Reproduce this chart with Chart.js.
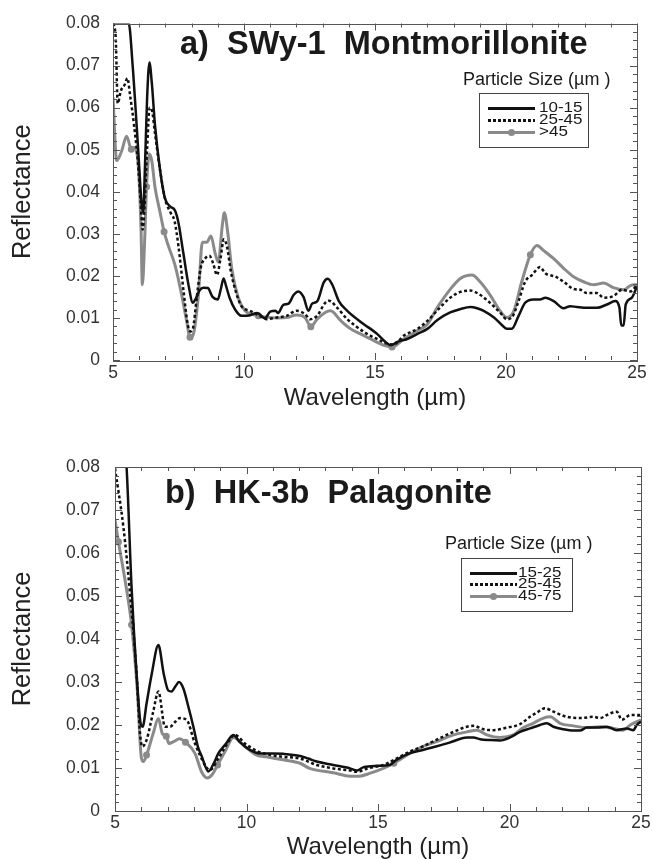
<!DOCTYPE html>
<html>
<head>
<meta charset="utf-8">
<script src="https://cdn.jsdelivr.net/npm/chart.js@4.4.1/dist/chart.umd.min.js"></script>
<style>
  html, body { margin: 0; padding: 0; background: #fff; }
  #page { position: relative; width: 653px; height: 859px; font-family: "Liberation Sans", Arial, sans-serif; color: #1a1a1a; }
  .panel { position: absolute; left: 0; width: 653px; }
  #panelA { top: 0; height: 430px; }
  #panelB { top: 430px; height: 429px; }
  canvas { display: block; }
  .title { position: absolute; font-weight: bold; font-size: 32.5px; line-height: 32px; white-space: pre; }
  .sizeHead { position: absolute; font-size: 18px; line-height: 18px; white-space: pre; }
  .legendBox { position: absolute; border: 1px solid #444; box-sizing: border-box; }
  .legendRow { position: absolute; font-size: 17px; line-height: 12px; height: 12px; white-space: pre; transform: scaleY(0.82); }
  .sample { position: absolute; height: 3px; }
  .dot { position: absolute; width: 7px; height: 7px; border-radius: 50%; }
</style>
</head>
<body>
<div id="page">
  <div class="panel" id="panelA"><canvas id="chartA" width="653" height="430"></canvas></div>
  <div class="panel" id="panelB"><canvas id="chartB" width="653" height="429"></canvas></div>
</div>
<script>
// Axis ticks shared by both panels
const xTicks = [5, 10, 15, 20, 25];
const yTicks = [0, 0.01, 0.02, 0.03, 0.04, 0.05, 0.06, 0.07, 0.08];
const yTickLabels = ['0', '0.01', '0.02', '0.03', '0.04', '0.05', '0.06', '0.07', '0.08'];

// a) SWy-1 Montmorillonite
const sizesA = ['10-15', '25-45', '>45'];
const waveA1 = [5.0, 5.3, 5.6, 5.75, 5.9, 6.0, 6.08, 6.15, 6.22, 6.3, 6.39, 6.48, 6.6, 6.8, 6.98, 7.18, 7.37, 7.5, 7.68, 7.88, 8.05, 8.15, 8.3, 8.45, 8.62, 8.8, 9.0, 9.12, 9.22, 9.32, 9.45, 9.66, 9.9, 10.2, 10.5, 10.8, 11.0, 11.2, 11.3, 11.5, 11.7, 11.9, 12.07, 12.27, 12.46, 12.6, 12.8, 13.04, 13.2, 13.37, 13.62, 13.94, 14.32, 14.64, 14.83, 15.08, 15.4, 15.6, 15.85, 16.23, 16.62, 17.0, 17.38, 17.87, 18.26, 18.64, 18.9, 19.15, 19.54, 19.86, 20.03, 20.22, 20.48, 20.73, 21.05, 21.3, 21.5, 21.82, 22.2, 22.45, 22.71, 23.09, 23.47, 23.85, 24.17, 24.33, 24.4, 24.49, 24.57, 24.8, 25.0];
const reflA1 = [0.080, 0.080, 0.080, 0.070, 0.056, 0.046, 0.038, 0.035, 0.046, 0.062, 0.0707, 0.066, 0.056, 0.045, 0.0385, 0.0365, 0.0355, 0.0326, 0.0256, 0.0179, 0.0136, 0.0145, 0.0165, 0.0172, 0.0171, 0.015, 0.0144, 0.017, 0.0194, 0.0175, 0.0148, 0.012, 0.0105, 0.0106, 0.0112, 0.0099, 0.0115, 0.0117, 0.0112, 0.0131, 0.0134, 0.0155, 0.0163, 0.015, 0.0117, 0.0134, 0.014, 0.0184, 0.0193, 0.0179, 0.014, 0.0117, 0.0097, 0.0082, 0.0074, 0.0062, 0.0043, 0.0035, 0.0043, 0.005, 0.0062, 0.0074, 0.0095, 0.0113, 0.0121, 0.0126, 0.0123, 0.0117, 0.0101, 0.0082, 0.0074, 0.0074, 0.0105, 0.0136, 0.0144, 0.0144, 0.0148, 0.014, 0.0123, 0.0128, 0.0126, 0.0124, 0.0124, 0.0132, 0.014, 0.0124, 0.0082, 0.0082, 0.0132, 0.0148, 0.0175];
const waveA2 = [5.0, 5.1, 5.18, 5.3, 5.45, 5.55, 5.65, 5.8, 5.95, 6.05, 6.13, 6.2, 6.3, 6.4, 6.5, 6.6, 6.8, 7.0, 7.2, 7.35, 7.5, 7.7, 7.85, 7.95, 8.05, 8.2, 8.35, 8.5, 8.68, 8.82, 8.97, 9.1, 9.23, 9.35, 9.5, 9.7, 9.9, 10.23, 10.6, 10.87, 11.25, 11.63, 12.0, 12.33, 12.52, 12.79, 13.1, 13.24, 13.56, 13.94, 14.32, 14.7, 15.08, 15.46, 15.72, 16.1, 16.62, 17.0, 17.38, 17.87, 18.26, 18.64, 19.01, 19.39, 19.77, 20.03, 20.22, 20.48, 20.73, 20.99, 21.3, 21.5, 21.89, 22.2, 22.58, 22.84, 23.09, 23.47, 23.73, 24.1, 24.43, 24.75, 25.0];
const reflA2 = [0.080, 0.077, 0.061, 0.064, 0.0655, 0.067, 0.063, 0.056, 0.047, 0.038, 0.031, 0.036, 0.05, 0.06, 0.059, 0.054, 0.045, 0.038, 0.035, 0.033, 0.027, 0.016, 0.0085, 0.0068, 0.0075, 0.015, 0.022, 0.024, 0.0248, 0.023, 0.0202, 0.024, 0.0287, 0.027, 0.021, 0.016, 0.0128, 0.0117, 0.0105, 0.0097, 0.0101, 0.0105, 0.0117, 0.0109, 0.0097, 0.0105, 0.0136, 0.0141, 0.0124, 0.0097, 0.0078, 0.0062, 0.005, 0.0039, 0.0037, 0.0058, 0.0074, 0.0093, 0.0118, 0.0148, 0.0162, 0.0165, 0.0155, 0.0136, 0.0113, 0.0097, 0.0101, 0.014, 0.0186, 0.0202, 0.0221, 0.0206, 0.0198, 0.0186, 0.0169, 0.0167, 0.0159, 0.0159, 0.0148, 0.0152, 0.0167, 0.0163, 0.0179];
const waveA3 = [5.0, 5.14, 5.33, 5.52, 5.7, 5.82, 5.97, 6.07, 6.12, 6.2, 6.28, 6.39, 6.48, 6.6, 6.8, 6.95, 7.11, 7.37, 7.62, 7.81, 7.94, 8.07, 8.26, 8.41, 8.58, 8.74, 8.89, 9.02, 9.17, 9.25, 9.38, 9.53, 9.78, 10.04, 10.29, 10.55, 10.74, 11.25, 11.63, 12.0, 12.33, 12.55, 12.79, 13.1, 13.3, 13.7, 14.07, 14.45, 14.83, 15.34, 15.65, 16.1, 16.62, 17.0, 17.38, 17.87, 18.26, 18.7, 19.01, 19.39, 19.77, 20.03, 20.3, 20.6, 20.93, 21.18, 21.44, 21.82, 22.2, 22.58, 22.96, 23.35, 23.73, 24.1, 24.49, 24.75, 25.0];
const reflA3 = [0.0625, 0.0474, 0.0497, 0.0532, 0.0501, 0.0505, 0.0458, 0.031, 0.0179, 0.027, 0.0412, 0.049, 0.0474, 0.0412, 0.035, 0.0305, 0.0272, 0.0225, 0.0155, 0.0093, 0.0054, 0.0062, 0.0155, 0.028, 0.028, 0.0295, 0.0256, 0.0233, 0.0319, 0.035, 0.0303, 0.0218, 0.0148, 0.0117, 0.0109, 0.0105, 0.0103, 0.01, 0.0101, 0.0107, 0.0101, 0.0079, 0.0097, 0.0113, 0.0117, 0.0093, 0.0074, 0.0062, 0.005, 0.0035, 0.0031, 0.005, 0.007, 0.0085, 0.0125, 0.0168, 0.0194, 0.0202, 0.0186, 0.0155, 0.0117, 0.0101, 0.0117, 0.0186, 0.025, 0.0272, 0.026, 0.0241, 0.0218, 0.0198, 0.0186, 0.0179, 0.0183, 0.0172, 0.0167, 0.0177, 0.0179];
const markersA = [5.7, 6.28, 6.95, 7.94, 10.55, 12.55, 15.65, 20.93];

// b) HK-3b Palagonite
const sizesB = ['15-25', '25-45', '45-75'];
const waveB1 = [5.0, 5.2, 5.44, 5.63, 5.82, 5.97, 6.05, 6.2, 6.4, 6.65, 6.85, 7.03, 7.15, 7.3, 7.43, 7.6, 7.8, 7.98, 8.15, 8.3, 8.55, 8.75, 8.93, 9.2, 9.5, 9.75, 10.13, 10.5, 11.0, 11.4, 12.04, 12.35, 12.67, 13.3, 13.94, 14.2, 14.45, 14.95, 15.45, 15.7, 16.2, 16.7, 17.2, 17.72, 18.38, 18.63, 18.88, 19.26, 19.64, 20.02, 20.4, 20.78, 21.16, 21.42, 21.67, 22.05, 22.43, 22.68, 22.94, 23.32, 23.7, 24.08, 24.46, 24.71, 24.84, 25.0];
const reflB1 = [0.112, 0.096, 0.080, 0.052, 0.032, 0.0205, 0.0196, 0.025, 0.032, 0.0386, 0.032, 0.028, 0.0278, 0.029, 0.030, 0.0285, 0.024, 0.0196, 0.015, 0.0127, 0.0092, 0.011, 0.0134, 0.0155, 0.0177, 0.016, 0.0142, 0.0134, 0.0134, 0.0133, 0.0128, 0.0122, 0.0115, 0.0107, 0.0099, 0.0094, 0.0102, 0.0105, 0.0107, 0.0119, 0.0134, 0.0142, 0.015, 0.0159, 0.0171, 0.0171, 0.0167, 0.0165, 0.0164, 0.0171, 0.0184, 0.0192, 0.02, 0.0204, 0.0196, 0.019, 0.0187, 0.0187, 0.0194, 0.0194, 0.0196, 0.0188, 0.0192, 0.0188, 0.02, 0.0208];
const waveB2 = [5.0, 5.32, 5.57, 5.82, 5.95, 6.04, 6.2, 6.45, 6.65, 6.9, 7.09, 7.3, 7.47, 7.72, 8.04, 8.42, 8.6, 8.93, 9.2, 9.56, 9.94, 10.45, 10.96, 11.4, 12.04, 12.67, 13.3, 13.94, 14.2, 14.6, 15.2, 15.7, 16.2, 16.7, 17.2, 17.87, 18.38, 18.63, 19.01, 19.39, 19.9, 20.4, 20.78, 21.04, 21.35, 21.67, 22.18, 22.68, 23.19, 23.45, 23.7, 24.08, 24.27, 24.59, 25.0];
const reflB2 = [0.0797, 0.066, 0.0507, 0.032, 0.0181, 0.015, 0.0165, 0.023, 0.0278, 0.0196, 0.0196, 0.0208, 0.0216, 0.0212, 0.0157, 0.0107, 0.0095, 0.0122, 0.015, 0.0177, 0.0157, 0.0138, 0.013, 0.0126, 0.0122, 0.0107, 0.0099, 0.0094, 0.0091, 0.0099, 0.0107, 0.0122, 0.0138, 0.015, 0.0165, 0.0184, 0.0196, 0.0198, 0.019, 0.0188, 0.0194, 0.0202, 0.0219, 0.0229, 0.0239, 0.0231, 0.0219, 0.0216, 0.0219, 0.0216, 0.0223, 0.0231, 0.0212, 0.0223, 0.0223];
const waveB3 = [5.0, 5.13, 5.4, 5.63, 5.85, 6.0, 6.08, 6.2, 6.45, 6.65, 6.8, 6.95, 7.05, 7.25, 7.45, 7.68, 8.04, 8.3, 8.5, 8.7, 8.9, 9.2, 9.5, 9.94, 10.39, 10.76, 11.4, 12.04, 12.4, 12.67, 13.3, 13.94, 14.3, 14.7, 15.2, 15.6, 16.2, 16.7, 17.2, 17.87, 18.38, 18.76, 19.14, 19.64, 20.15, 20.53, 20.9, 21.29, 21.55, 21.92, 22.43, 22.94, 23.45, 23.95, 24.33, 24.59, 25.0];
const reflB3 = [0.0677, 0.0626, 0.053, 0.0433, 0.028, 0.0125, 0.0115, 0.013, 0.018, 0.0215, 0.018, 0.0174, 0.0157, 0.0162, 0.0168, 0.016, 0.0134, 0.009, 0.0077, 0.0085, 0.0107, 0.014, 0.0171, 0.015, 0.013, 0.0126, 0.0119, 0.0111, 0.0099, 0.0095, 0.0089, 0.0081, 0.0081, 0.0088, 0.0099, 0.0111, 0.0134, 0.015, 0.0161, 0.0177, 0.0184, 0.0188, 0.0177, 0.0171, 0.0177, 0.0194, 0.0204, 0.0216, 0.0219, 0.0204, 0.0198, 0.0194, 0.0196, 0.0192, 0.0188, 0.02, 0.0212];
const markersB = [5.13, 5.63, 6.2, 6.95, 7.68, 8.9, 15.6];

const FONT = '"Liberation Sans", Arial, sans-serif';
const BLACK = '#111';
const GRAY = '#8a8a8a';

function toPoints(xs, ys) {
  return xs.map((x, i) => ({ x: x, y: ys[i] }));
}

// frame on all four sides with inward major and minor ticks
const frameTicks = {
  id: 'frameTicks',
  afterDatasetsDraw(chart) {
    const { ctx, chartArea: a, scales } = chart;
    const x = scales.x, y = scales.y;
    ctx.save();
    ctx.strokeStyle = '#555';
    ctx.lineWidth = 1;
    ctx.strokeRect(Math.round(a.left) + 0.5, Math.round(a.top) + 0.5,
      Math.round(a.right - a.left), Math.round(a.bottom - a.top));
    ctx.beginPath();
    for (let w = 5; w <= 25; w++) {
      const px = Math.round(x.getPixelForValue(w)) + 0.5;
      const len = w % 5 === 0 ? 7 : 4;
      ctx.moveTo(px, a.bottom); ctx.lineTo(px, a.bottom - len);
      ctx.moveTo(px, a.top); ctx.lineTo(px, a.top + len);
    }
    for (let i = 0; i <= 40; i++) {
      const py = Math.round(y.getPixelForValue(i * 0.002)) + 0.5;
      const len = i % 5 === 0 ? 7 : 4;
      ctx.moveTo(a.left, py); ctx.lineTo(a.left + len, py);
      ctx.moveTo(a.right, py); ctx.lineTo(a.right - len, py);
    }
    ctx.stroke();
    ctx.restore();
  }
};

function seriesSets(sizes, w1, r1, w2, r2, w3, r3, markers) {
  return [
    {
      label: sizes[0], data: toPoints(w1, r1),
      borderColor: BLACK, borderWidth: 2.5, pointRadius: 0,
      cubicInterpolationMode: 'monotone'
    },
    {
      label: sizes[1], data: toPoints(w2, r2),
      borderColor: BLACK, borderWidth: 2.5, borderDash: [3, 2.5], pointRadius: 0,
      cubicInterpolationMode: 'monotone'
    },
    {
      label: sizes[2], data: toPoints(w3, r3),
      borderColor: GRAY, borderWidth: 3,
      pointRadius: c => (c.raw && markers.includes(c.raw.x)) ? 3.5 : 0,
      pointBackgroundColor: GRAY, pointBorderWidth: 0,
      cubicInterpolationMode: 'monotone'
    }
  ];
}

function makeChart(id, datasets, lay) {
  return new Chart(document.getElementById(id), {
    type: 'line',
    data: { datasets: datasets },
    plugins: [frameTicks],
    options: {
      responsive: false,
      animation: false,
      devicePixelRatio: 1,
      layout: { padding: { top: lay.top, right: lay.right, left: 0, bottom: 0 } },
      plugins: { legend: { display: false }, tooltip: { enabled: false } },
      scales: {
        x: {
          type: 'linear', min: 5, max: 25,
          afterBuildTicks: s => { s.ticks = xTicks.map(v => ({ value: v })); },
          afterFit: s => { s.height = lay.xHeight; },
          grid: { display: false, drawTicks: false },
          border: { display: false },
          ticks: { padding: lay.xPad, color: '#333', maxRotation: 0, font: { family: FONT, size: 17.5 } },
          title: {
            display: true, text: 'Wavelength (µm)', color: '#222',
            font: { family: FONT, size: 24, lineHeight: 1 },
            padding: { top: 0, bottom: lay.xTitlePad }
          }
        },
        y: {
          type: 'linear', min: 0, max: 0.08,
          afterBuildTicks: s => { s.ticks = yTicks.map(v => ({ value: v })); },
          afterFit: s => { s.width = lay.yWidth; },
          grid: { display: false, drawTicks: false },
          border: { display: false },
          ticks: {
            padding: lay.yPad, color: '#333', font: { family: FONT, size: 17.5 },
            callback: (v, i) => yTickLabels[i]
          },
          title: {
            display: true, text: 'Reflectance', color: '#222',
            font: { family: FONT, size: 25.5, lineHeight: 1 },
            padding: { top: 10, bottom: 0 }
          }
        }
      }
    }
  });
}

// title, "Particle Size" heading and the boxed legend drawn over each panel
function addOverlay(panelId, chart, text, lay) {
  const panel = document.getElementById(panelId);
  const t = document.createElement('div');
  t.className = 'title';
  t.textContent = text;
  t.style.left = lay.titleX + 'px';
  t.style.top = (lay.titleY - 16) + 'px';
  panel.appendChild(t);

  const h = document.createElement('div');
  h.className = 'sizeHead';
  h.textContent = 'Particle Size (µm )';
  h.style.left = lay.headX + 'px';
  h.style.top = (lay.headY - 9) + 'px';
  panel.appendChild(h);

  const box = document.createElement('div');
  box.className = 'legendBox';
  box.style.left = lay.box[0] + 'px';
  box.style.top = lay.box[1] + 'px';
  box.style.width = lay.box[2] + 'px';
  box.style.height = lay.box[3] + 'px';
  panel.appendChild(box);

  chart.data.datasets.forEach((ds, i) => {
    const rowY = lay.rows[i];
    const line = document.createElement('div');
    line.className = 'sample';
    line.style.left = lay.lineX[0] + 'px';
    line.style.width = (lay.lineX[1] - lay.lineX[0]) + 'px';
    line.style.top = (rowY - 1.5) + 'px';
    if (ds.borderDash) {
      line.style.background = 'repeating-linear-gradient(to right, ' + BLACK + ' 0 3px, transparent 3px 5px)';
    } else {
      line.style.background = ds.borderColor;
    }
    panel.appendChild(line);
    if (ds.borderColor === GRAY) {
      const d = document.createElement('div');
      d.className = 'dot';
      d.style.background = GRAY;
      d.style.left = ((lay.lineX[0] + lay.lineX[1]) / 2 - 3.5) + 'px';
      d.style.top = (rowY - 3.5) + 'px';
      panel.appendChild(d);
    }
    const lbl = document.createElement('div');
    lbl.className = 'legendRow';
    lbl.textContent = ds.label;
    lbl.style.left = lay.textX + 'px';
    lbl.style.top = (rowY - 6) + 'px';
    panel.appendChild(lbl);
  });
}

const layoutA = {
  top: 17, right: 16, xHeight: 70, xPad: 3, xTitlePad: 20, yWidth: 113, yPad: 13,
  titleX: 180, titleY: 43, headX: 463, headY: 79,
  box: [479, 93, 110, 55], rows: [108, 120, 132], lineX: [488, 535], textX: 539
};
const layoutB = {
  top: 37, right: 12, xHeight: 48, xPad: 2, xTitlePad: 0, yWidth: 115, yPad: 15,
  titleX: 165, titleY: 62, headX: 445, headY: 113,
  box: [461, 128, 112, 54], rows: [143, 154, 166], lineX: [470, 517], textX: 518
};

const chartA = makeChart('chartA',
  seriesSets(sizesA, waveA1, reflA1, waveA2, reflA2, waveA3, reflA3, markersA), layoutA);
const chartB = makeChart('chartB',
  seriesSets(sizesB, waveB1, reflB1, waveB2, reflB2, waveB3, reflB3, markersB), layoutB);

addOverlay('panelA', chartA, 'a)  SWy-1  Montmorillonite', layoutA);
addOverlay('panelB', chartB, 'b)  HK-3b  Palagonite', layoutB);
</script>
</body>
</html>
